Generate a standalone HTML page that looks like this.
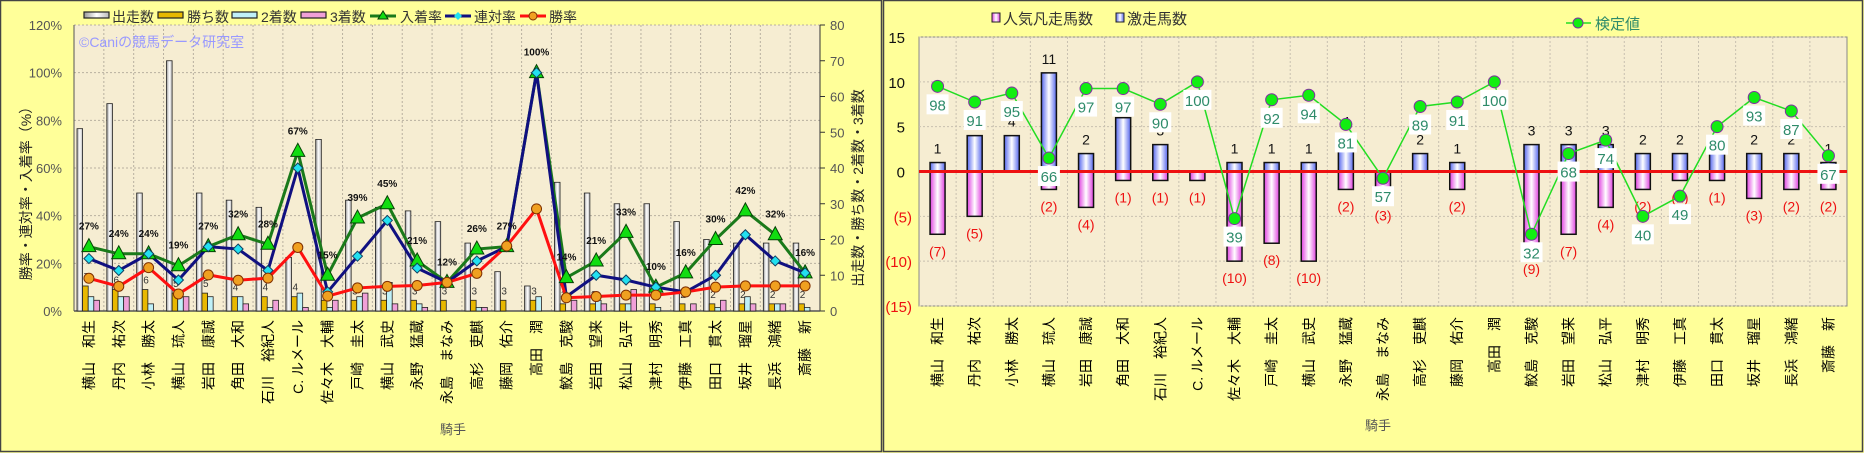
<!DOCTYPE html>
<html><head><meta charset="utf-8">
<style>
html,body{margin:0;padding:0;background:#ffff99;}
body{width:1864px;height:453px;position:relative;overflow:hidden;font-family:"Liberation Sans","Noto Sans CJK JP",sans-serif;}
svg{position:absolute;left:0;top:0;font-family:"Liberation Sans","Noto Sans CJK JP",sans-serif;}
</style></head><body>
<svg id="s" width="1864" height="453" xmlns="http://www.w3.org/2000/svg"></svg>
<script>
var names=["横山　和生","丹内　祐次","小林　勝太","横山　琉人","岩田　康誠","角田　大和","石川　裕紀人","C. ルメール","佐々木　大輔","戸崎　圭太","横山　武史","永野　猛蔵","永島　まなみ","高杉　吏麒","藤岡　佑介","高田　潤","鮫島　克駿","岩田　望来","松山　弘平","津村　明秀","伊藤　工真","田口　貫太","坂井　瑠星","長浜　鴻緒","斎藤　新"];
var starts=[51,58,33,70,33,31,29,15,48,31,29,28,25,19,11,7,36,33,30,30,25,20,19,19,19];
var wins=[7,6,6,5,5,4,4,4,3,3,3,3,3,3,3,3,2,2,2,2,2,2,2,2,2];
var sec=[4,4,2,4,4,4,1,5,1,4,8,2,0,1,0,4,0,3,2,1,0,1,4,2,1];
var thr=[3,4,0,4,0,2,3,1,3,5,2,1,0,1,0,0,3,2,6,0,2,3,2,2,0];
var place=[27,24,24,19,27,32,28,67,15,39,45,21,12,26,27,100,14,21,33,10,16,30,42,32,16];
var rent=[22,17,24,13,27,26,17,60,8,23,38,18,12,21,27,100,6,15,13,10,8,15,32,21,16];
var blue=[1,4,4,11,2,6,3,0,1,1,1,4,0,2,1,0,3,3,3,2,2,2,2,2,1];
var pink=[7,5,0,2,4,1,1,1,10,8,10,2,3,0,2,0,9,7,4,2,1,1,3,2,2];
var test=[98,91,95,66,97,97,90,100,39,92,94,81,57,89,91,100,32,68,74,40,49,80,93,87,67];
var h='';
h+='<defs><linearGradient id="gw" x1="0" x2="1"><stop offset="0" stop-color="#999"/><stop offset="0.5" stop-color="#fff"/><stop offset="1" stop-color="#bbb"/></linearGradient>'+
'<linearGradient id="gb" x1="0" x2="1"><stop offset="0" stop-color="#5566ee"/><stop offset="0.5" stop-color="#ffffff"/><stop offset="1" stop-color="#5566ee"/></linearGradient>'+
'<linearGradient id="gp" x1="0" x2="1"><stop offset="0" stop-color="#e040e0"/><stop offset="0.5" stop-color="#ffffff"/><stop offset="1" stop-color="#e040e0"/></linearGradient></defs>';
h+='<rect x="0.5" y="0.5" width="881" height="451" fill="#ffff99" stroke="#444" stroke-width="1.5"/>';
h+='<rect x="883.5" y="0.5" width="979" height="451" fill="#ffff99" stroke="#444" stroke-width="1.5"/>';
var L=74,R=820,T=25,B=311,W=(R-L)/25;
h+='<rect x="'+L+'" y="'+T+'" width="'+(R-L)+'" height="'+(B-T)+'" fill="#f6edd2"/>';
for(var i=1;i<25;i++){var x=L+i*W;h+='<line x1="'+x+'" y1="'+T+'" x2="'+x+'" y2="'+B+'" stroke="#b8b0a0" stroke-dasharray="2,2"/>';}
for(var k=0;k<=6;k++){var y=B-k*(B-T)/6;if(k>0)h+='<line x1="'+L+'" y1="'+y+'" x2="'+R+'" y2="'+y+'" stroke="#b8b0a0" stroke-dasharray="2,2"/>';
h+='<text x="'+(L-12)+'" y="'+(y+5)+'" font-size="13" fill="#555" text-anchor="end">'+(k*20)+'%</text>';}
for(var k=0;k<=8;k++){var y=B-k*(B-T)/8;h+='<line x1="'+R+'" y1="'+y+'" x2="'+(R+5)+'" y2="'+y+'" stroke="#333"/>';
h+='<text x="'+(R+10)+'" y="'+(y+5)+'" font-size="13" fill="#555">'+(k*10)+'</text>';}
h+='<line x1="'+L+'" y1="'+T+'" x2="'+L+'" y2="'+B+'" stroke="#555"/><line x1="'+R+'" y1="'+T+'" x2="'+R+'" y2="'+B+'" stroke="#333"/><line x1="'+L+'" y1="'+B+'" x2="'+R+'" y2="'+B+'" stroke="#555" stroke-width="1.5"/>';
h+='<text x="79" y="47" font-size="14" fill="#9999ff">©Caniの競馬データ研究室</text>';
function cy(v){return B-v*(B-T)/80;}function py(v){return B-v*(B-T)/120;}
for(var i=0;i<25;i++){var x0=L+i*W+3;var bw=5.6;
[[starts[i],'url(#gw)'],[wins[i],'#e8b800'],[sec[i],'#bff0f8'],[thr[i],'#f0a0d8']].forEach(function(b,j){if(b[0]>0){var y=cy(b[0]);h+='<rect x="'+(x0+j*bw)+'" y="'+y+'" width="'+bw+'" height="'+(B-y)+'" fill="'+b[1]+'" stroke="#222" stroke-width="0.8"/>';}});
h+='<text x="'+(x0+bw+1)+'" y="'+(cy(wins[i])-6)+'" font-size="10" fill="#333">'+wins[i]+'</text>';}
function line(arr,col,f){var p=[];for(var i=0;i<25;i++)p.push((L+(i+0.5)*W)+','+f(arr[i]));return '<polyline points="'+p.join(' ')+'" fill="none" stroke="'+col+'" stroke-width="3"/>';}
var wr=wins.map(function(w,i){return w/starts[i]*100;});
h+=line(place,'#1a7a1a',py);h+=line(rent,'#101080',py);h+=line(wr,'#ff1010',py);
for(var i=0;i<25;i++){var x=L+(i+0.5)*W;
var y=py(place[i]);h+='<polygon points="'+x+','+(y-8)+' '+(x-7)+','+(y+5)+' '+(x+7)+','+(y+5)+'" fill="#11dd11" stroke="#064006"/>';
h+='<text x="'+x+'" y="'+(y-17)+'" font-size="10" font-weight="bold" text-anchor="middle" fill="#111">'+place[i]+'%</text>';
y=py(rent[i]);h+='<polygon points="'+x+','+(y-5)+' '+(x+5)+','+y+' '+x+','+(y+5)+' '+(x-5)+','+y+'" fill="#22e0f0" stroke="#104060"/>';
y=py(wr[i]);h+='<circle cx="'+x+'" cy="'+y+'" r="5" fill="#f0a020" stroke="#803000"/>';}
function sw(x,c){return '<rect x="'+x+'" y="12" width="25" height="6" fill="'+c+'" stroke="#222" stroke-width="1.2"/>';}
h+=sw(84,'url(#gw)')+'<text x="112" y="22" font-size="14" fill="#333">出走数</text>';
h+=sw(158,'#e8b800')+'<text x="187" y="22" font-size="14" fill="#333">勝ち数</text>';
h+=sw(232,'#bff0f8')+'<text x="261" y="22" font-size="14" fill="#333">2着数</text>';
h+=sw(301,'#f0a0d8')+'<text x="330" y="22" font-size="14" fill="#333">3着数</text>';
h+='<line x1="370" y1="16" x2="396" y2="16" stroke="#1a7a1a" stroke-width="3"/><polygon points="383,11 378,19 388,19" fill="#11dd11" stroke="#064006"/><text x="400" y="22" font-size="14" fill="#333">入着率</text>';
h+='<line x1="445" y1="16" x2="471" y2="16" stroke="#101080" stroke-width="3"/><polygon points="458,12 462,16 458,20 454,16" fill="#22e0f0"/><text x="474" y="22" font-size="14" fill="#333">連対率</text>';
h+='<line x1="520" y1="16" x2="546" y2="16" stroke="#ff1010" stroke-width="3"/><circle cx="533" cy="16" r="4" fill="#f0a020" stroke="#803000"/><text x="549" y="22" font-size="14" fill="#333">勝率</text>';
h+='<text x="440" y="434" font-size="13" fill="#555">騎手</text>';
h+='<text transform="translate(31,190) rotate(-90)" font-size="14" fill="#222" text-anchor="middle">勝率・連対率・入着率（%）</text>';
h+='<text transform="translate(863,188) rotate(-90)" font-size="14" fill="#222" text-anchor="middle">出走数・勝ち数・2着数・3着数</text>';
var L2=919,R2=1847,T2=37,B2=306,W2=(R2-L2)/25;
function ry(v){return T2+(15-v)*(B2-T2)/30;}
h+='<rect x="'+L2+'" y="'+T2+'" width="'+(R2-L2)+'" height="'+(B2-T2)+'" fill="#f6edd2" stroke="#888"/>';
for(var i=1;i<25;i++){var x=L2+i*W2;h+='<line x1="'+x+'" y1="'+T2+'" x2="'+x+'" y2="'+B2+'" stroke="#c8c0b0" stroke-dasharray="2,2"/>';}
for(var v=-15;v<=15;v+=5){var y=ry(v);h+='<line x1="'+L2+'" y1="'+y+'" x2="'+R2+'" y2="'+y+'" stroke="#c8c0b0" stroke-dasharray="2,2"/>';
var t=v<0?'('+(-v)+')':v;h+='<text x="'+(v<0?912:905)+'" y="'+(y+6)+'" font-size="15" text-anchor="end" fill="'+(v<0?'#ee1111':'#111')+'">'+t+'</text>';}
for(var i=0;i<25;i++){var cx=L2+(i+0.5)*W2,bw=15;
if(pink[i]>0){h+='<rect x="'+(cx-bw/2)+'" y="'+ry(0)+'" width="'+bw+'" height="'+(ry(-pink[i])-ry(0))+'" fill="url(#gp)" stroke="#111" stroke-width="1.5"/>';
h+='<text x="'+cx+'" y="'+(ry(-pink[i])+22)+'" font-size="14" text-anchor="middle" fill="#ee1111">('+pink[i]+')</text>';}
if(blue[i]>0){h+='<rect x="'+(cx-bw/2)+'" y="'+ry(blue[i])+'" width="'+bw+'" height="'+(ry(0)-ry(blue[i]))+'" fill="url(#gb)" stroke="#111" stroke-width="1.5"/>';
h+='<text x="'+cx+'" y="'+(ry(blue[i])-9)+'" font-size="14" text-anchor="middle" fill="#111">'+blue[i]+'</text>';}}
h+='<line x1="'+L2+'" y1="'+ry(0)+'" x2="'+R2+'" y2="'+ry(0)+'" stroke="#ee1111" stroke-width="3"/>';
var pts=[];for(var i=0;i<25;i++)pts.push((L2+(i+0.5)*W2)+','+ry((test[i]-60)/4));
h+='<polyline points="'+pts.join(' ')+'" fill="none" stroke="#22dd22" stroke-width="1.5"/>';
for(var i=0;i<25;i++){var cx=L2+(i+0.5)*W2,y=ry((test[i]-60)/4);
h+='<circle cx="'+cx+'" cy="'+y+'" r="6" fill="#11ee11" stroke="#8030a0" stroke-width="1"/>';
var tw=test[i]==100?24:18;h+='<rect x="'+(cx-tw/2-2)+'" y="'+(y+8)+'" width="'+(tw+4)+'" height="20" fill="#fff"/>';
h+='<text x="'+cx+'" y="'+(y+24)+'" font-size="15" text-anchor="middle" fill="#2e8b6a">'+test[i]+'</text>';}
h+='<rect x="992" y="13" width="8" height="9" fill="url(#gp)" stroke="#222"/><text x="1003" y="24" font-size="15" fill="#333">人気凡走馬数</text>';
h+='<rect x="1116" y="13" width="8" height="9" fill="url(#gb)" stroke="#222"/><text x="1127" y="24" font-size="15" fill="#333">激走馬数</text>';
h+='<line x1="1566" y1="23" x2="1591" y2="23" stroke="#22dd22" stroke-width="1.5"/><circle cx="1578" cy="23" r="5" fill="#11ee11" stroke="#8030a0"/><text x="1595" y="29" font-size="15" fill="#2e8b6a">検定値</text>';
h+='<text x="1365" y="430" font-size="13" fill="#555">騎手</text>';
for(var i=0;i<25;i++){
var x1=L+(i+0.5)*W+5, x2=L2+(i+0.5)*W2+5;
h+='<text transform="translate('+x1+',320) rotate(-90)" font-size="14" text-anchor="end" fill="#000">'+names[i]+'</text>';
h+='<text transform="translate('+x2+',317) rotate(-90)" font-size="14" text-anchor="end" fill="#000">'+names[i]+'</text>';}
document.getElementById('s').innerHTML=h;
</script>
</body></html>
